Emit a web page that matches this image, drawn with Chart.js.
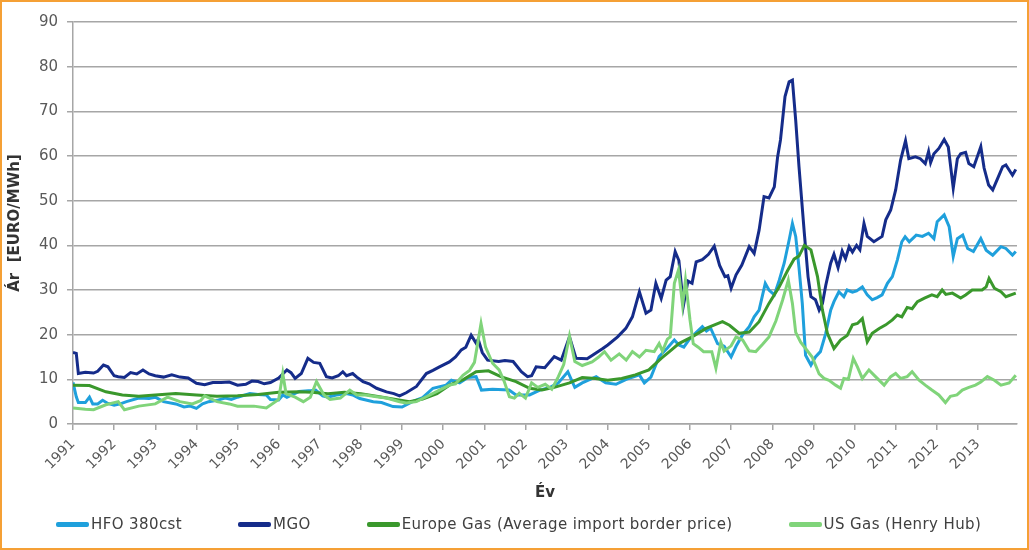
<!DOCTYPE html>
<html>
<head>
<meta charset="utf-8">
<script src="https://cdn.jsdelivr.net/npm/chart.js@4"></script>
<style>
  body { margin: 0; background: #fff; }
  #wrap { position: relative; width: 1029px; height: 550px; }
  #frame { position: absolute; left: 0; top: 0; width: 1029px; height: 550px; box-sizing: border-box;
           border: 2px solid #f5a035; pointer-events: none; }
  #legend { position: absolute; left: 56px; top: 515px; display: flex; align-items: center;
            font-family: 'DejaVu Sans', sans-serif; font-size: 15px; letter-spacing: 0.4px;
            color: #404040; white-space: nowrap; }
  .item { display: flex; align-items: center; margin-right: 56px; }
  .mark { width: 33px; height: 5px; border-radius: 2px; margin-right: 2px; }
</style>
</head>
<body>
<div id="wrap">
  <canvas id="priceChart" width="1029" height="550"></canvas>
  <div id="legend"></div>
  <div id="frame"></div>
</div>
<script>
// series names and colours
const seriesNames = ['HFO 380cst', 'MGO', 'Europe Gas (Average import border price)', 'US Gas (Henry Hub)'];
const seriesColors = ['#1fa0dc', '#152c8a', '#3a982c', '#80d47a'];

// HFO 380cst
const hfoYears = [1991.0,1991.08,1991.13,1991.3,1991.4,1991.48,1991.6,1991.72,1991.85,1992.0,1992.15,1992.3,1992.6,1992.85,1993.0,1993.2,1993.5,1993.7,1993.85,1994.0,1994.15,1994.3,1994.5,1994.7,1994.85,1995.0,1995.3,1995.5,1995.7,1995.8,1996.0,1996.1,1996.2,1996.5,1996.8,1996.9,1997.07,1997.2,1997.4,1997.65,1997.8,1997.97,1998.3,1998.5,1998.78,1999.0,1999.25,1999.5,1999.75,2000.07,2000.2,2000.4,2000.6,2000.8,2000.93,2001.2,2001.6,2001.77,2002.1,2002.35,2002.6,2002.8,2003.03,2003.2,2003.38,2003.72,2003.95,2004.2,2004.45,2004.77,2004.89,2005.05,2005.25,2005.45,2005.62,2005.73,2005.85,2005.97,2006.13,2006.3,2006.4,2006.5,2006.67,2006.83,2007.0,2007.12,2007.28,2007.44,2007.56,2007.68,2007.83,2007.92,2008.05,2008.17,2008.29,2008.41,2008.49,2008.57,2008.65,2008.73,2008.81,2008.94,2009.05,2009.17,2009.3,2009.42,2009.5,2009.62,2009.74,2009.82,2009.95,2010.05,2010.19,2010.31,2010.43,2010.55,2010.67,2010.8,2010.92,2011.04,2011.15,2011.23,2011.33,2011.5,2011.65,2011.8,2011.93,2012.01,2012.18,2012.3,2012.4,2012.5,2012.63,2012.75,2012.89,2013.07,2013.2,2013.36,2013.56,2013.68,2013.84,2013.92];
const hfoValues = [9.3,6.1,4.8,4.8,6.0,4.5,4.5,5.3,4.6,4.2,4.5,5.0,5.8,5.7,6.0,5.0,4.5,3.8,4.0,3.5,4.5,5.0,5.3,5.8,5.5,6.0,6.8,6.6,6.5,5.5,5.4,6.5,6.0,7.3,7.5,7.6,6.3,6.0,6.5,6.8,6.5,5.7,5.0,4.8,3.9,3.8,5.0,5.9,8.0,8.7,9.8,9.2,10.4,10.6,7.6,7.8,7.6,6.5,6.5,7.6,8.2,9.2,11.7,8.2,9.2,10.6,9.2,8.9,10.0,11.0,9.2,10.5,15.1,17.0,18.8,17.7,17.2,18.8,20.3,21.8,20.8,21.5,18.0,17.4,15.0,17.4,20.0,21.8,24.0,25.5,31.5,30.0,28.9,32.2,36.0,41.2,44.9,42.0,35.0,27.0,15.4,13.2,15.0,16.2,20.3,25.5,27.4,29.6,28.5,30.0,29.5,29.8,30.7,28.9,27.8,28.3,28.9,31.5,33.0,36.7,40.8,41.9,40.8,42.3,42.0,42.7,41.5,45.3,46.8,44.2,37.5,41.5,42.3,39.3,38.6,41.5,38.9,37.8,39.7,39.3,37.8,38.6];

// MGO
const mgoYears = [1991.0,1991.08,1991.13,1991.3,1991.5,1991.6,1991.74,1991.85,1992.0,1992.1,1992.25,1992.4,1992.55,1992.7,1992.85,1993.0,1993.2,1993.4,1993.6,1993.8,1994.0,1994.2,1994.4,1994.6,1994.8,1995.0,1995.2,1995.35,1995.5,1995.65,1995.8,1996.0,1996.1,1996.2,1996.3,1996.4,1996.55,1996.71,1996.85,1997.0,1997.16,1997.3,1997.45,1997.56,1997.65,1997.8,1997.9,1998.05,1998.2,1998.38,1998.62,1998.8,1998.94,1999.1,1999.35,1999.59,1999.75,1999.91,2000.15,2000.3,2000.44,2000.55,2000.68,2000.8,2000.85,2000.95,2001.08,2001.35,2001.5,2001.7,2001.9,2002.05,2002.15,2002.26,2002.47,2002.7,2002.87,2003.07,2003.23,2003.5,2003.63,2003.88,2004.0,2004.24,2004.44,2004.6,2004.77,2004.93,2005.05,2005.17,2005.3,2005.42,2005.52,2005.64,2005.73,2005.84,2005.95,2006.05,2006.15,2006.3,2006.45,2006.59,2006.72,2006.85,2006.92,2007.0,2007.12,2007.26,2007.44,2007.56,2007.68,2007.8,2007.92,2008.05,2008.13,2008.2,2008.31,2008.41,2008.49,2008.57,2008.65,2008.78,2008.87,2008.94,2009.05,2009.14,2009.22,2009.3,2009.42,2009.5,2009.6,2009.7,2009.78,2009.87,2009.95,2010.05,2010.13,2010.23,2010.31,2010.47,2010.67,2010.76,2010.88,2011.0,2011.12,2011.24,2011.32,2011.48,2011.6,2011.72,2011.8,2011.85,2011.93,2012.05,2012.18,2012.28,2012.4,2012.5,2012.58,2012.7,2012.78,2012.9,2013.07,2013.15,2013.26,2013.36,2013.48,2013.6,2013.68,2013.84,2013.92];
const mgoValues = [16.0,15.8,11.3,11.6,11.4,11.8,13.2,12.8,10.8,10.6,10.4,11.5,11.2,12.1,11.2,10.8,10.5,11.0,10.5,10.3,9.1,8.8,9.3,9.3,9.4,8.7,8.9,9.6,9.5,9.0,9.3,10.3,11.2,12.1,11.5,10.2,11.3,14.7,13.8,13.6,10.6,10.3,10.8,11.7,10.8,11.3,10.5,9.5,9.0,8.0,7.2,6.8,6.3,7.0,8.4,11.3,12.0,12.8,13.9,15.0,16.6,17.2,19.9,18.1,19.0,16.0,14.3,14.0,14.2,14.0,11.7,10.6,10.8,12.8,12.6,15.1,14.3,19.5,14.7,14.6,15.4,16.9,17.7,19.5,21.4,24.0,29.6,24.8,25.5,31.5,28.1,32.2,33.0,38.6,36.6,26.5,32.0,31.5,36.3,36.8,38.0,39.8,35.5,33.0,33.2,30.4,33.4,35.6,39.7,38.2,43.4,50.9,50.6,53.1,59.8,63.6,73.3,76.6,77.0,68.0,57.6,42.7,33.0,28.5,27.8,25.5,27.0,31.0,36.0,38.0,35.0,38.7,37.0,39.7,38.5,40.0,39.0,44.9,42.0,40.8,42.0,45.7,47.9,52.4,59.1,63.4,59.4,59.8,59.4,58.3,61.0,58.5,60.5,61.7,63.7,62.0,52.8,59.4,60.5,60.8,58.3,57.6,62.1,57.3,53.5,52.4,55.0,57.6,58.0,55.7,57.0];

// Europe Gas (Average import border price)
const euGasYears = [1991.0,1991.4,1991.8,1992.2,1992.6,1993.0,1993.5,1994.0,1994.5,1995.0,1995.5,1996.0,1996.5,1996.8,1997.2,1997.6,1998.0,1998.45,1998.85,1999.18,1999.5,1999.85,2000.15,2000.5,2000.8,2001.1,2001.4,2001.77,2002.1,2002.4,2002.7,2003.07,2003.38,2003.7,2004.0,2004.34,2004.67,2005.0,2005.3,2005.5,2005.73,2006.05,2006.39,2006.79,2006.96,2007.2,2007.44,2007.68,2007.92,2008.17,2008.37,2008.53,2008.65,2008.78,2008.94,2009.1,2009.22,2009.34,2009.5,2009.66,2009.82,2009.95,2010.07,2010.19,2010.31,2010.43,2010.6,2010.76,2010.92,2011.04,2011.15,2011.28,2011.4,2011.53,2011.7,2011.88,2012.01,2012.13,2012.22,2012.38,2012.58,2012.7,2012.86,2013.1,2013.2,2013.27,2013.4,2013.56,2013.68,2013.92];
const euGasValues = [8.7,8.6,7.2,6.5,6.2,6.5,6.8,6.5,6.2,6.3,6.6,7.1,7.2,7.1,6.8,7.1,6.8,6.1,5.5,5.0,5.6,6.8,8.7,10.0,11.7,11.9,10.6,9.5,8.0,7.6,8.2,9.2,10.4,10.2,9.8,10.2,11.0,12.1,14.7,16.2,18.0,19.5,21.4,22.9,22.1,20.3,20.6,22.9,27.0,30.7,34.3,36.9,37.6,40.0,39.0,33.0,25.5,20.3,16.9,18.8,19.8,22.2,22.5,23.6,18.4,20.3,21.4,22.2,23.3,24.4,24.0,26.1,25.8,27.4,28.2,28.9,28.5,30.0,29.0,29.3,28.2,28.9,30.0,30.0,30.7,32.6,30.4,29.6,28.5,29.3];

// US Gas (Henry Hub)
const usGasYears = [1991.0,1991.3,1991.5,1991.8,1992.1,1992.25,1992.6,1993.0,1993.3,1993.6,1993.9,1994.1,1994.2,1994.5,1994.8,1995.0,1995.4,1995.7,1996.0,1996.1,1996.18,1996.4,1996.6,1996.77,1996.92,1997.1,1997.25,1997.5,1997.73,1997.9,1998.1,1998.38,1998.62,1998.94,1999.1,1999.35,1999.59,1999.91,2000.15,2000.3,2000.48,2000.64,2000.76,2000.92,2001.03,2001.2,2001.36,2001.48,2001.61,2001.73,2001.85,2002.0,2002.15,2002.3,2002.48,2002.64,2002.8,2002.93,2003.07,2003.2,2003.38,2003.62,2003.78,2003.92,2004.08,2004.28,2004.45,2004.6,2004.77,2004.93,2005.13,2005.25,2005.33,2005.45,2005.52,2005.62,2005.72,2005.82,2005.89,2006.0,2006.08,2006.2,2006.33,2006.53,2006.63,2006.75,2006.83,2007.0,2007.12,2007.28,2007.44,2007.6,2007.76,2007.92,2008.09,2008.25,2008.39,2008.49,2008.57,2008.69,2008.81,2008.97,2009.14,2009.26,2009.38,2009.54,2009.66,2009.74,2009.85,2009.97,2010.07,2010.19,2010.35,2010.51,2010.72,2010.88,2011.0,2011.12,2011.28,2011.4,2011.57,2011.72,2011.88,2012.05,2012.21,2012.33,2012.49,2012.62,2012.78,2012.94,2013.07,2013.23,2013.4,2013.56,2013.76,2013.92];
const usGasValues = [3.6,3.3,3.2,4.3,5.0,3.2,4.0,4.5,6.0,5.0,4.5,5.2,6.3,5.0,4.5,4.0,4.0,3.6,5.5,11.3,6.8,6.0,5.0,6.0,9.5,6.5,5.5,5.8,7.6,6.5,6.5,6.1,5.8,5.0,4.7,5.0,6.1,7.6,8.7,9.0,10.9,12.0,13.8,22.5,17.2,13.6,12.1,9.6,6.1,5.8,6.9,5.8,9.2,8.2,8.9,7.8,10.6,13.3,19.7,14.0,13.1,13.9,15.0,16.2,14.3,15.7,14.3,16.2,15.0,16.5,16.2,18.0,16.3,19.0,19.5,31.5,34.5,26.6,32.2,23.3,18.0,17.2,16.2,16.2,12.5,18.3,16.3,17.5,19.5,18.8,16.4,16.2,17.8,19.5,23.1,27.7,32.2,27.0,20.5,18.3,16.9,15.0,11.2,10.2,9.8,8.7,8.0,10.2,10.0,14.7,12.8,10.2,12.1,10.6,8.7,10.6,11.3,10.2,10.6,11.7,9.8,8.7,7.6,6.5,4.8,6.2,6.5,7.6,8.2,8.7,9.4,10.6,9.8,8.7,9.2,10.9];

const yearsList = [hfoYears, mgoYears, euGasYears, usGasYears];
const valuesList = [hfoValues, mgoValues, euGasValues, usGasValues];

const gridColor = '#a6a6a6';
const tickColor = '#595959';

const datasets = seriesNames.map((name, i) => ({
    label: name,
    data: yearsList[i].map((yr, j) => ({ x: yr, y: valuesList[i][j] })),
    borderColor: seriesColors[i],
    backgroundColor: seriesColors[i],
    borderWidth: 3,
    pointRadius: 0,
    tension: 0,
    order: 4 - i
}));

const ctx = document.getElementById('priceChart').getContext('2d');
const priceChart = new Chart(ctx, {
    type: 'line',
    data: { datasets },
    options: {
        responsive: false,
        animation: false,
        layout: { padding: { top: 22, right: 12, bottom: 47, left: 0 } },
        plugins: { legend: { display: false }, tooltip: { enabled: false } },
        scales: {
            x: {
                type: 'linear',
                min: 1991,
                max: 2013.95,
                afterFit: s => { s.height = 79; },
                afterBuildTicks: s => { s.ticks = s.ticks.filter(t => Number.isInteger(t.value)); },
                ticks: {
                    stepSize: 1,
                    autoSkip: false,
                    minRotation: 45,
                    maxRotation: 45,
                    padding: 6,
                    color: tickColor,
                    font: { family: 'DejaVu Sans', size: 14 },
                    callback: v => String(v)
                },
                grid: { drawOnChartArea: false, drawTicks: true, tickLength: 6, color: gridColor, lineWidth: 1.5 },
                border: { color: gridColor, width: 1.5 },
                title: {
                    display: true,
                    text: 'Év',
                    color: '#333',
                    padding: { top: 0, bottom: 1 },
                    font: { family: 'DejaVu Sans', size: 15, weight: 'bold' }
                }
            },
            y: {
                min: 0,
                max: 90,
                afterFit: s => { s.width = 73; },
                ticks: {
                    stepSize: 10,
                    padding: 9,
                    color: tickColor,
                    font: { family: 'DejaVu Sans', size: 15 }
                },
                grid: { color: gridColor, lineWidth: 1.5, tickLength: 6 },
                border: { color: gridColor, width: 1.5 },
                title: {
                    display: true,
                    text: 'Ár  [EURO/MWh]',
                    color: '#333',
                    padding: { top: 6, bottom: 0 },
                    font: { family: 'DejaVu Sans', size: 15, weight: 'bold' }
                }
            }
        }
    }
});

// legend below the axis title
const legendBox = document.getElementById('legend');
seriesNames.forEach((name, i) => {
    const item = document.createElement('div');
    item.className = 'item';
    const mark = document.createElement('span');
    mark.className = 'mark';
    mark.style.background = seriesColors[i];
    const txt = document.createElement('span');
    txt.textContent = name;
    item.appendChild(mark);
    item.appendChild(txt);
    legendBox.appendChild(item);
});
</script>
</body>
</html>
